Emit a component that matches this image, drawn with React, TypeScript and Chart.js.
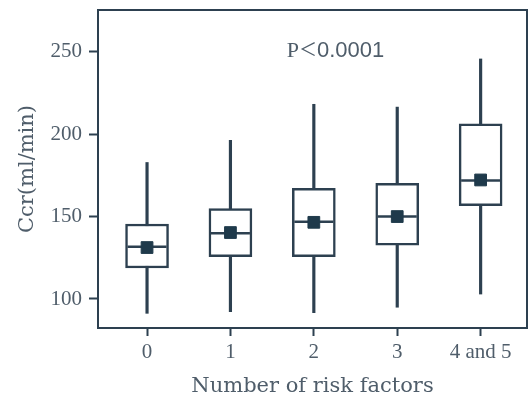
import React, { useEffect, useRef } from 'react';
import { Chart, registerables } from 'chart.js';

Chart.register(...registerables);

// ---- data ----
const CATEGORIES = ['0', '1', '2', '3', '4 and 5'];
const WHISKER_LOW = [91.3, 92.3, 91.7, 95.0, 103.0];
const Q1 = [118.8, 125.7, 125.7, 132.7, 156.6];
const MEDIAN = [131.7, 139.9, 146.9, 150.1, 171.8];
const Q3 = [145.5, 154.8, 167.1, 170.2, 206.3];
const WHISKER_HIGH = [182.8, 196.3, 218.1, 216.4, 245.6];
const MEAN = [131.2, 140.3, 146.5, 150.0, 172.2];
const Y_TICKS = [100, 150, 200, 250];
const P_PARTS = ['P', '＜', '0.0001'];
const X_TITLE = 'Number of risk factors';
const Y_TITLE = 'Ccr(ml/min)';

// ---- styles ----
const LINE = '#2d4050';
const MARK = '#1f3a4b';
const TEXT = '#4f5d6a';
const P_ANCHOR = { x: 1.675, y: 247 }; // left edge / baseline of the P label, in data units

const framePlugin = {
  id: 'frameAndLabel',
  afterDatasetsDraw(chart: any) {
    const { ctx, chartArea: a, scales } = chart;
    ctx.save();
    ctx.strokeStyle = LINE;
    ctx.lineWidth = 2;
    ctx.strokeRect(a.left, a.top, a.right - a.left, a.bottom - a.top);

    const fonts = ['22px "Liberation Serif"', '18px "Noto Sans CJK JP"', '22px "Liberation Sans"'];
    let x = scales.x.getPixelForValue(P_ANCHOR.x);
    const y = scales.y.getPixelForValue(P_ANCHOR.y);
    ctx.fillStyle = TEXT;
    ctx.textBaseline = 'alphabetic';
    ctx.textAlign = 'left';
    P_PARTS.forEach((t, i) => {
      ctx.font = fonts[i];
      ctx.fillText(t, x, i === 1 ? y - 0.5 : y);
      x += ctx.measureText(t).width;
    });
    ctx.restore();
  },
};

const zeroPad = (s: any) => {
  s.paddingLeft = 0;
  s.paddingRight = 0;
  s.paddingTop = 0;
  s.paddingBottom = 0;
};

export default function App() {
  const ref = useRef<HTMLCanvasElement | null>(null);

  useEffect(() => {
    if (!ref.current) return;
    const idx = CATEGORIES.map((_, i) => i);
    const chart = new Chart(ref.current, {
      type: 'bar',
      data: {
        datasets: [
          {
            type: 'bar',
            data: idx.map((i) => ({ x: i, y: [WHISKER_LOW[i], WHISKER_HIGH[i]] })) as any,
            backgroundColor: LINE,
            borderWidth: 0,
            barThickness: 2.5,
            grouped: false,
            order: 4,
          } as any,
          {
            type: 'bar',
            data: idx.map((i) => ({ x: i, y: [Q1[i], Q3[i]] })) as any,
            backgroundColor: '#ffffff',
            borderColor: LINE,
            borderWidth: 2.5,
            borderSkipped: false,
            barThickness: 43,
            grouped: false,
            order: 3,
          } as any,
          {
            type: 'scatter',
            data: idx.map((i) => ({ x: i, y: MEDIAN[i] })),
            pointStyle: 'line',
            pointRadius: 19.5,
            pointBorderWidth: 2.5,
            borderColor: LINE,
            backgroundColor: LINE,
            order: 2,
          } as any,
          {
            type: 'scatter',
            data: idx.map((i) => ({ x: i, y: MEAN[i] })),
            pointStyle: 'rect',
            pointRadius: 8.3,
            pointBorderWidth: 1,
            borderColor: MARK,
            backgroundColor: MARK,
            order: 1,
          } as any,
        ],
      },
      options: {
        animation: false,
        responsive: false,
        events: [],
        layout: { autoPadding: false, padding: { top: 10, right: 3, left: 0, bottom: 0 } },
        plugins: { legend: { display: false }, tooltip: { enabled: false } },
        scales: {
          x: {
            type: 'linear',
            offset: false,
            min: -0.588,
            max: 4.556,
            afterBuildTicks: (s: any) => {
              s.ticks = idx.map((i) => ({ value: i }));
            },
            afterFit: (s: any) => {
              s.height = 69;
              zeroPad(s);
            },
            grid: { display: true, offset: false, drawOnChartArea: false, drawTicks: true, tickLength: 8, tickWidth: 2, tickColor: LINE },
            border: { display: false },
            ticks: {
              autoSkip: false,
              maxRotation: 0,
              padding: 4,
              color: TEXT,
              font: { family: '"Liberation Serif"', size: 21 },
              callback: (v: any) => CATEGORIES[Math.round(Number(v))],
            },
            title: {
              display: true,
              text: X_TITLE,
              color: TEXT,
              font: { family: '"DejaVu Serif"', size: 21 },
              padding: { top: 0, bottom: -2 },
            },
          },
          y: {
            type: 'linear',
            offset: false,
            min: 82.4,
            max: 275.3,
            afterBuildTicks: (s: any) => {
              s.ticks = Y_TICKS.map((v) => ({ value: v }));
            },
            afterFit: (s: any) => {
              s.width = 98;
              zeroPad(s);
            },
            grid: { display: true, offset: false, drawOnChartArea: false, drawTicks: true, tickLength: 9, tickWidth: 2, tickColor: LINE },
            border: { display: false },
            ticks: {
              padding: 7,
              color: TEXT,
              font: { family: '"Liberation Serif"', size: 21 },
            },
            title: {
              display: true,
              text: Y_TITLE,
              color: TEXT,
              font: { family: '"DejaVu Serif"', size: 21 },
              padding: { top: 15, bottom: 0 },
            },
          },
        },
      } as any,
      plugins: [framePlugin],
    });
    return () => chart.destroy();
  }, []);

  return (
    <div style={{ position: 'fixed', left: 0, top: 0, width: 530, height: 397, background: '#ffffff' }}>
      <canvas ref={ref} width={530} height={397} style={{ display: 'block' }} />
    </div>
  );
}
